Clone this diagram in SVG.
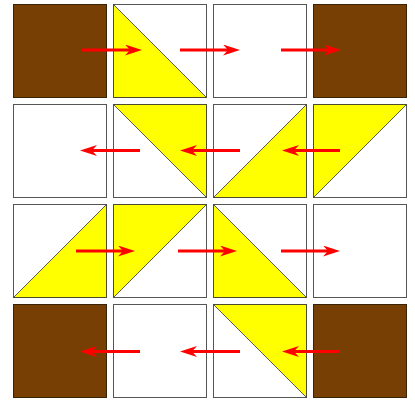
<svg xmlns="http://www.w3.org/2000/svg" width="415" height="402" viewBox="0 0 415 402">
<style>
.sq{fill:#fff;stroke:#555;stroke-width:1}
.br{fill:#773f04;stroke:#3a2408;stroke-width:1}
.tri{fill:#ffff00;stroke:#333;stroke-width:0.8}
.arr{stroke:#ff0000;stroke-width:3;fill:none;marker-end:url(#ah)}
</style>
<defs>
<marker id="ah" viewBox="0 0 17 11" refX="5" refY="5.5" markerWidth="17" markerHeight="11" markerUnits="userSpaceOnUse" orient="auto">
<path d="M0,0 L17,5.5 L0,11 L5,5.5 Z" fill="#ff0000"/>
</marker>
</defs>
<g id="r0c0"><rect class="br" x="13.5" y="4.5" width="93" height="93"/></g>
<g id="r0c1"><rect class="sq" x="113.5" y="4.5" width="93" height="93"/><polygon class="tri" points="113.5,4.5 113.5,97.5 206.5,97.5"/></g>
<g id="r0c2"><rect class="sq" x="213.5" y="4.5" width="93" height="93"/></g>
<g id="r0c3"><rect class="br" x="313.5" y="4.5" width="93" height="93"/></g>

<g id="r1c0"><rect class="sq" x="13.5" y="104.5" width="93" height="93"/></g>
<g id="r1c1"><rect class="sq" x="113.5" y="104.5" width="93" height="93"/><polygon class="tri" points="113.5,104.5 206.5,104.5 206.5,197.5"/></g>
<g id="r1c2"><rect class="sq" x="213.5" y="104.5" width="93" height="93"/><polygon class="tri" points="306.5,104.5 306.5,197.5 213.5,197.5"/></g>
<g id="r1c3"><rect class="sq" x="313.5" y="104.5" width="93" height="93"/><polygon class="tri" points="313.5,104.5 406.5,104.5 313.5,197.5"/></g>

<g id="r2c0"><rect class="sq" x="13.5" y="204.5" width="93" height="93"/><polygon class="tri" points="106.5,204.5 106.5,297.5 13.5,297.5"/></g>
<g id="r2c1"><rect class="sq" x="113.5" y="204.5" width="93" height="93"/><polygon class="tri" points="113.5,204.5 206.5,204.5 113.5,297.5"/></g>
<g id="r2c2"><rect class="sq" x="213.5" y="204.5" width="93" height="93"/><polygon class="tri" points="213.5,204.5 213.5,297.5 306.5,297.5"/></g>
<g id="r2c3"><rect class="sq" x="313.5" y="204.5" width="93" height="93"/></g>

<g id="r3c0"><rect class="br" x="13.5" y="304.5" width="93" height="93"/></g>
<g id="r3c1"><rect class="sq" x="113.5" y="304.5" width="93" height="93"/></g>
<g id="r3c2"><rect class="sq" x="213.5" y="304.5" width="93" height="93"/><polygon class="tri" points="213.5,304.5 306.5,304.5 306.5,397.5"/></g>
<g id="r3c3"><rect class="br" x="313.5" y="304.5" width="93" height="93"/></g>

<g id="connectors">
<line class="arr" x1="82" y1="50" x2="130" y2="50"/>
<line class="arr" x1="180" y1="50" x2="228" y2="50"/>
<line class="arr" x1="281" y1="50" x2="329" y2="50"/>
<line class="arr" x1="140" y1="150.5" x2="92" y2="150.5"/>
<line class="arr" x1="240" y1="150.5" x2="192" y2="150.5"/>
<line class="arr" x1="340" y1="150.5" x2="294" y2="150.5"/>
<line class="arr" x1="76" y1="251" x2="123" y2="251"/>
<line class="arr" x1="178" y1="251" x2="225" y2="251"/>
<line class="arr" x1="281" y1="251" x2="328" y2="251"/>
<line class="arr" x1="140" y1="351.5" x2="92" y2="351.5"/>
<line class="arr" x1="240" y1="351.5" x2="192" y2="351.5"/>
<line class="arr" x1="340" y1="351.5" x2="294" y2="351.5"/>
</g>
</svg>
